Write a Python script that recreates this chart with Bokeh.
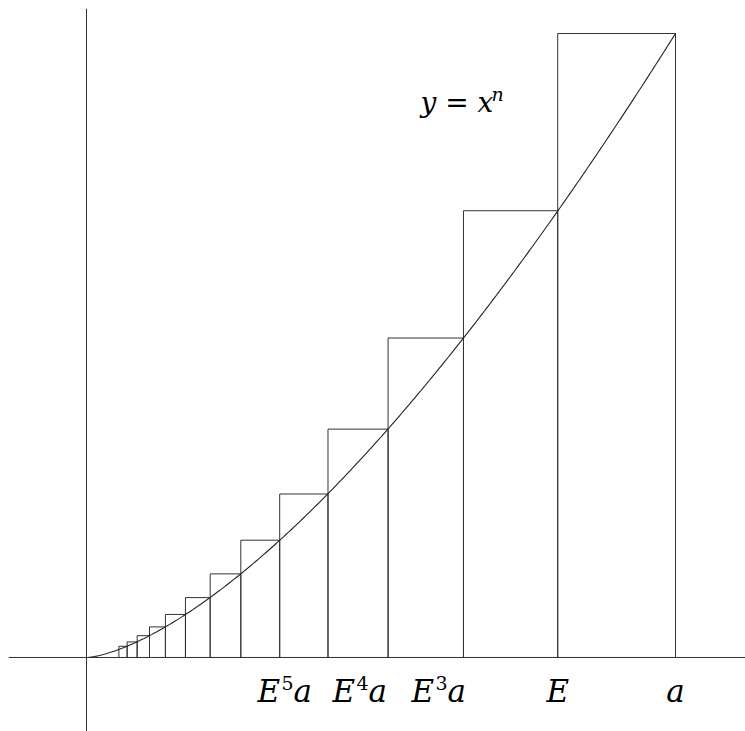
from bokeh.plotting import figure
from bokeh.models import Range1d, Span, ColumnDataSource
from bokeh.core.properties import value
from bokeh.embed import file_html
from bokeh.resources import INLINE
import numpy as np

# partition points a, E a, E^2 a, ... (a = 1, E = 0.8)
part_x = [1.0, 0.8, 0.64, 0.512, 0.41, 0.328, 0.262, 0.21, 0.168, 0.134, 0.107, 0.086, 0.069, 0.055]
# rectangle heights (value of the curve at the right edge)
rect_h = [1.0, 0.716, 0.512, 0.366, 0.262, 0.188, 0.134, 0.096, 0.069, 0.049, 0.035, 0.025, 0.018]
exponent_n = 1.5

# axis labels E^k a
lab_base = ["E", "E", "E"]
lab_power = ["5", "4", "3"]
lab_tail = ["a", "a", "a"]
lab_x = [0.2903, 0.4177, 0.5518]
plain_text = ["E", "a"]
plain_x = [0.8, 1.0]
label_y = -0.053

curve_main = "y = x"
curve_power = "n"
curve_x = 0.567
curve_y = 0.89

FONT = value("DejaVu Serif")

p = figure(width=745, height=731, output_backend="svg", toolbar_location=None,
           x_range=Range1d(-0.1324, 1.1188), y_range=Range1d(-0.1186, 1.0401),
           min_border=0, min_border_left=8, min_border_right=0,
           min_border_top=8, min_border_bottom=0)
p.xaxis.visible = False
p.yaxis.visible = False
p.xgrid.visible = False
p.ygrid.visible = False
p.outline_line_color = None
p.background_fill_color = "white"

line_col = "#333333"

p.add_layout(Span(location=0, dimension="width", line_color=line_col, line_width=1))
p.add_layout(Span(location=0, dimension="height", line_color=line_col, line_width=1))

rects = ColumnDataSource(dict(left=part_x[1:len(rect_h) + 1], right=part_x[:len(rect_h)],
                              top=rect_h, bottom=[0] * len(rect_h)))
p.quad(left="left", right="right", top="top", bottom="bottom", source=rects,
       fill_color=None, line_color=line_col, line_width=1)

cx = np.linspace(0, 1, 300)
p.line(cx, cx ** exponent_n, line_color="#222222", line_width=1.1)

ly = [label_y] * len(lab_x)
p.text(x=lab_x, y=ly, text=lab_base, text_font=FONT, text_font_style="italic",
       text_font_size="31px", text_align="left", text_baseline="alphabetic", text_color="black")
p.text(x=lab_x, y=ly, text=lab_power, text_font=FONT, text_font_style="normal",
       text_font_size="19px", text_align="left", text_baseline="alphabetic", text_color="black",
       x_offset=24, y_offset=-8)
p.text(x=lab_x, y=ly, text=lab_tail, text_font=FONT, text_font_style="italic",
       text_font_size="31px", text_align="left", text_baseline="alphabetic", text_color="black",
       x_offset=36)
p.text(x=plain_x, y=[label_y] * len(plain_x), text=plain_text, text_font=FONT,
       text_font_style="italic", text_font_size="31px", text_align="center",
       text_baseline="alphabetic", text_color="black")

p.text(x=[curve_x], y=[curve_y], text=[curve_main], text_font=FONT, text_font_style="italic",
       text_font_size="28px", text_align="left", text_baseline="alphabetic", text_color="black")
p.text(x=[curve_x], y=[curve_y], text=[curve_power], text_font=FONT, text_font_style="italic",
       text_font_size="19px", text_align="left", text_baseline="alphabetic", text_color="black",
       x_offset=71, y_offset=-8)

open("out.html", "w").write(file_html(p, INLINE))
